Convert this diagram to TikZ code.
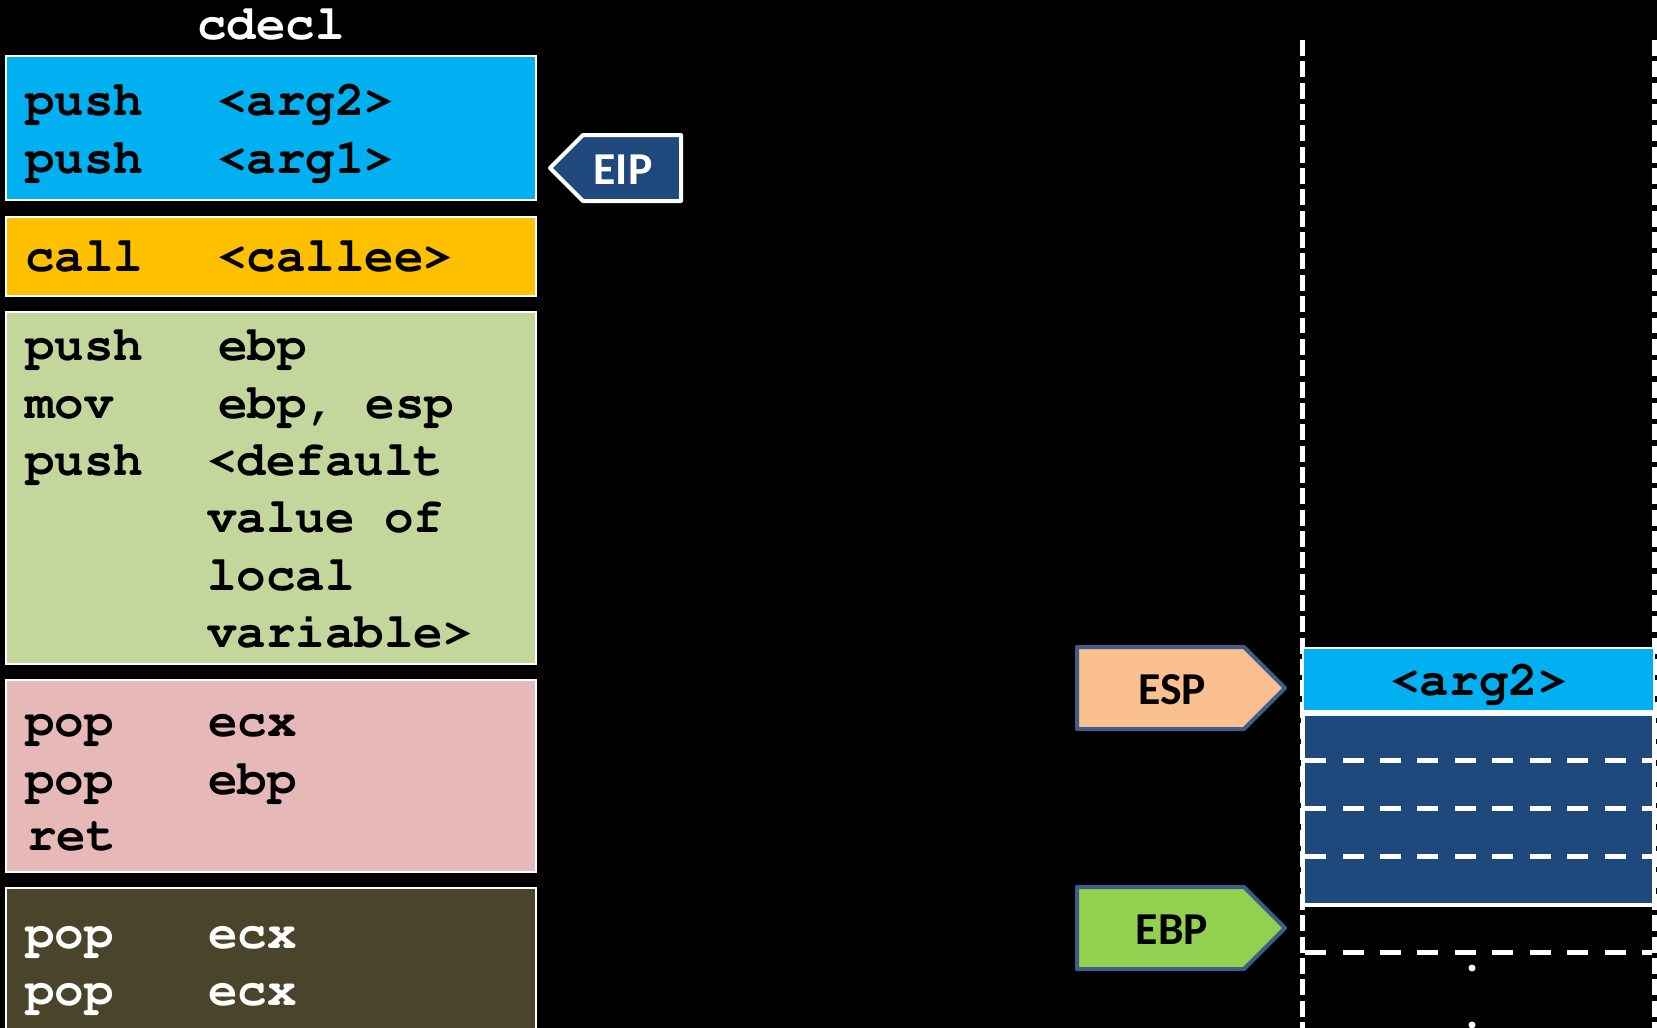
\documentclass[tikz,border=0pt]{standalone}
\usepackage[T1]{fontenc}
\usepackage{fontspec}
\newfontfamily\tagfont{Carlito}
\usetikzlibrary{calc}
\definecolor{argblue}{HTML}{00B0F0}
\definecolor{callgold}{HTML}{FFC000}
\definecolor{prolgreen}{HTML}{C3D69B}
\definecolor{epilpink}{HTML}{E6B9B8}
\definecolor{cleanolive}{HTML}{4A452A}
\definecolor{framenavy}{HTML}{1F497D}
\definecolor{espfill}{HTML}{FAC090}
\definecolor{ebpfill}{HTML}{92D050}
\definecolor{tagedge}{HTML}{3D5E8B}
\newcommand{\asmfont}{\fontencoding{T1}\fontfamily{pcr}\fontseries{b}\fontsize{28}{34}\selectfont}
\tikzset{
  codetext/.style={anchor=base west, inner sep=0pt, font=\asmfont},
  tagtext/.style={anchor=base, inner sep=0pt, font=\tagfont\bfseries\fontsize{26}{30}\selectfont},
  stackside/.style={white, line width=0.1cm, dash pattern=on 0.32cm off 0.107cm},
  slotline/.style={white, line width=0.1cm, dash pattern=on 0.42cm off 0.33cm}
}
\newcommand{\codebox}[5]{\draw[white, line width=0.04cm, fill=#5] ( #1 , #2 ) rectangle ( #3 , #4 );}
\newcommand{\codeline}[5]{\node[codetext] (#1m) at ( 25 , #2 ) {#3}; \node[codetext] (#1o) at ( #4 , #2 ) {#5};}
\newcommand{\contline}[4]{\node[codetext] (#1o) at ( #3 , #2 ) {#4};}
\newcommand{\tagshape}[7]{\draw[#7, line width=0.08cm, line join=round, fill=#6] ( #1 , #2 ) -- ( #3 , #2 ) -- ( #5 , {#2 * 0.5 + #4 * 0.5} ) -- ( #3 , #4 ) -- ( #1 , #4 ) -- cycle;}

\begin{document}
\begin{tikzpicture}[x=0.02cm, y=-0.02cm]
        \useasboundingbox (0,0) rectangle (1657,1028);
        \fill[black] (0,0) rectangle (1657,1028);
        \clip (0,0) rectangle (1657,1028);

        % caller code
        \node[codetext, anchor=base, text=white] (title) at (271,39) {cdecl};
        \codebox{6}{56}{536}{200}{argblue}
        \codeline{a1}{115}{push}{217}{<arg2>}
        \codeline{a2}{173}{push}{217}{<arg1>}
        \codebox{6}{217}{536}{296}{callgold}
        \codeline{b1}{271}{call}{217}{<callee>}
        % prologue
        \codebox{6}{312}{536}{664}{prolgreen}
        \codeline{c1}{360}{push}{218}{ebp}
        \codeline{c2}{418}{mov}{218}{ebp, esp}
        \codeline{c3}{475}{push}{207}{<default}
        \contline{c4}{532}{207}{value of}
        \contline{c5}{590}{207}{local}
        \contline{c6}{647}{207}{variable>}
        % epilogue
        \codebox{6}{680}{536}{872}{epilpink}
        \codeline{d1}{736}{pop}{208}{ecx}
        \codeline{d2}{794}{pop}{208}{ebp}
        \node[codetext] (d3m) at (27,850) {ret};
        % clean up
        \codebox{6}{888}{536}{1060}{cleanolive}
        \begin{scope}[every node/.append style={text=white}]
        \codeline{e1}{948}{pop}{208}{ecx}
        \codeline{e2}{1005}{pop}{208}{ecx}
        \end{scope}

        % instruction pointer
        \tagshape{681}{135}{583}{201}{550}{framenavy}{white}
        \node[tagtext, text=white] (eip) at (623,184) {EIP};

        % stack
        \draw[stackside] (1302.7,40) -- (1302.7,1040);
        \draw[stackside] (1654.3,40) -- (1654.3,1040);
        \draw[white, line width=0.04cm, fill=argblue] (1303,648) rectangle (1654,711);
        \node[codetext, anchor=base] (arg2cell) at (1479,695) {<arg2>};
        \draw[white, line width=0.07cm, fill=framenavy] (1303,714) rectangle (1654,905);
        \foreach \y in {760,808,856}
            \draw[slotline] (1305,\y) -- (1652,\y);
        \draw[slotline] (1305,952) -- (1652,952);
        \fill[white] (1472,968) circle (0.07cm);
        \fill[white] (1472,1025) circle (0.07cm);

        % registers
        \tagshape{1077}{647}{1244}{729}{1285}{espfill}{tagedge}
        \node[tagtext] (esp) at (1172,704) {ESP};
        \tagshape{1077}{887}{1244}{969}{1285}{ebpfill}{tagedge}
        \node[tagtext] (ebp) at (1172,944) {EBP};

    \end{tikzpicture}
\end{document}
